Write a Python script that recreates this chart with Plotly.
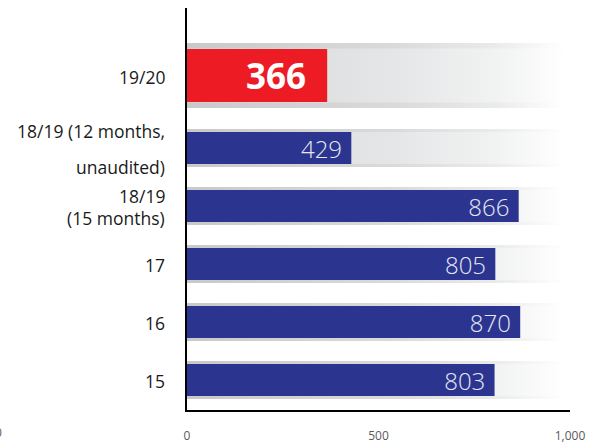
import plotly.graph_objects as go

# ---- data ----
categories = ["15", "16", "17", "18/19<br>(15 months)", "18/19 (12 months,<br>unaudited)", "19/20"]
values = [803, 870, 805, 866, 429, 366]
x_tick_vals = [0, 500, 1000]

# ---- layout helpers (pixel geometry) ----
W, H = 590, 445
ML, MR, MT, MB = 187, 20, 8, 35
UNIT = 58.0                      # px per category step
plot_h = H - MT - MB
y_lo = -30 / UNIT
y_hi = y_lo + plot_h / UNIT
pos = [0, 1, 2, 3, 4, (380 - 75.5) / UNIT]
bar_w = [32 / UNIT] * 5 + [53 / UNIT]
band_outer = [38 / UNIT] * 5 + [65 / UNIT]
band_inner = [32 / UNIT] * 5 + [54 / UNIT]
band_end = 985
line_gap = [22, 22, 22, 22, 36, 22]

RED = "#ED1C24"
BLUE = "#2B3590"
FONT = "Open Sans"

fig = go.Figure()

# gradient background bands (main axes, drawn beneath overlay axes)
outer_cs = [[0, "#c9c9c9"], [0.55, "#dadada"], [0.82, "#ebebeb"], [1, "#ffffff"]]
inner_cs = [[0, "#d6d6d6"], [0.55, "#e5e6e7"], [0.82, "#f1f2f2"], [1, "#ffffff"]]
for p, ho, hi in zip(pos, band_outer, band_inner):
    for h, cs in ((ho, outer_cs), (hi, inner_cs)):
        y0, y1 = p - h / 2, p + h / 2
        fig.add_trace(go.Scatter(
            x=[0, band_end, band_end, 0, 0], y=[y0, y0, y1, y1, y0],
            mode="lines", fill="toself", line=dict(width=0),
            fillgradient=dict(type="horizontal", colorscale=cs),
            hoverinfo="skip", showlegend=False, xaxis="x", yaxis="y"))

# bars (overlay axes so they sit above the bands)
n = len(values)
fig.add_trace(go.Bar(
    orientation="h", x=values[:n - 1], y=pos[:n - 1], width=bar_w[:n - 1],
    marker=dict(color=BLUE, line=dict(width=0)),
    text=[f"{v}\u00a0" for v in values[:n - 1]],
    textposition="inside", insidetextanchor="end", constraintext="none",
    textfont=dict(family=FONT, size=24, color="#e6e7f1", weight=300),
    cliponaxis=False, xaxis="x2", yaxis="y2", showlegend=False, hoverinfo="skip"))
fig.add_trace(go.Bar(
    orientation="h", x=values[n - 1:], y=pos[n - 1:], width=bar_w[n - 1:],
    marker=dict(color=RED, line=dict(width=0)),
    text=[f"{v}\u00a0\u00a0" for v in values[n - 1:]],
    textposition="inside", insidetextanchor="end", constraintext="none",
    textfont=dict(family=FONT, size=35, color="white", weight=700),
    cliponaxis=False, xaxis="x2", yaxis="y2", showlegend=False, hoverinfo="skip"))

# category labels
annotations = []
for cat, p, gap in zip(categories, pos, line_gap):
    lines = cat.split("<br>")
    k = len(lines)
    for i, ln in enumerate(lines):
        annotations.append(dict(
            text=ln, xref="paper", x=(167 - ML) / (W - ML - MR), xanchor="right",
            yref="y", y=p, yanchor="middle", yshift=-((i - (k - 1) / 2) * gap) - 1,
            showarrow=False, font=dict(family=FONT, size=17.5, color="#1a1a1a")))
# cropped tick label fragment at far left
annotations.append(dict(
    text="0", xref="paper", x=(4 - ML) / (W - ML - MR), xanchor="right",
    yref="paper", y=-(433 - (H - MB)) / plot_h, yanchor="middle",
    showarrow=False, font=dict(family=FONT, size=12, color="#595959")))

axis_common = dict(showgrid=False, zeroline=False, fixedrange=True, automargin=False)
fig.update_layout(
    width=W, height=H, margin=dict(l=ML, r=MR, t=MT, b=MB, autoexpand=False),
    paper_bgcolor="white", plot_bgcolor="white", barmode="overlay",
    xaxis=dict(range=[0, 1000], tickvals=x_tick_vals, tickformat=",",
               showline=True, linecolor="black", linewidth=2, ticks="",
               ticklabelstandoff=14,
               tickfont=dict(family=FONT, size=12, color="#595959"), **axis_common),
    yaxis=dict(range=[y_lo, y_hi], showticklabels=False, ticks="",
               showline=True, linecolor="black", linewidth=2, **axis_common),
    xaxis2=dict(range=[0, 1000], overlaying="x", visible=False, **axis_common),
    yaxis2=dict(range=[y_lo, y_hi], overlaying="y", visible=False, **axis_common),
    annotations=annotations, showlegend=False,
)

fig.write_html("out.html", config={"displayModeBar": False},
               post_script="document.body.style.margin='0';document.body.style.overflow='hidden';")
